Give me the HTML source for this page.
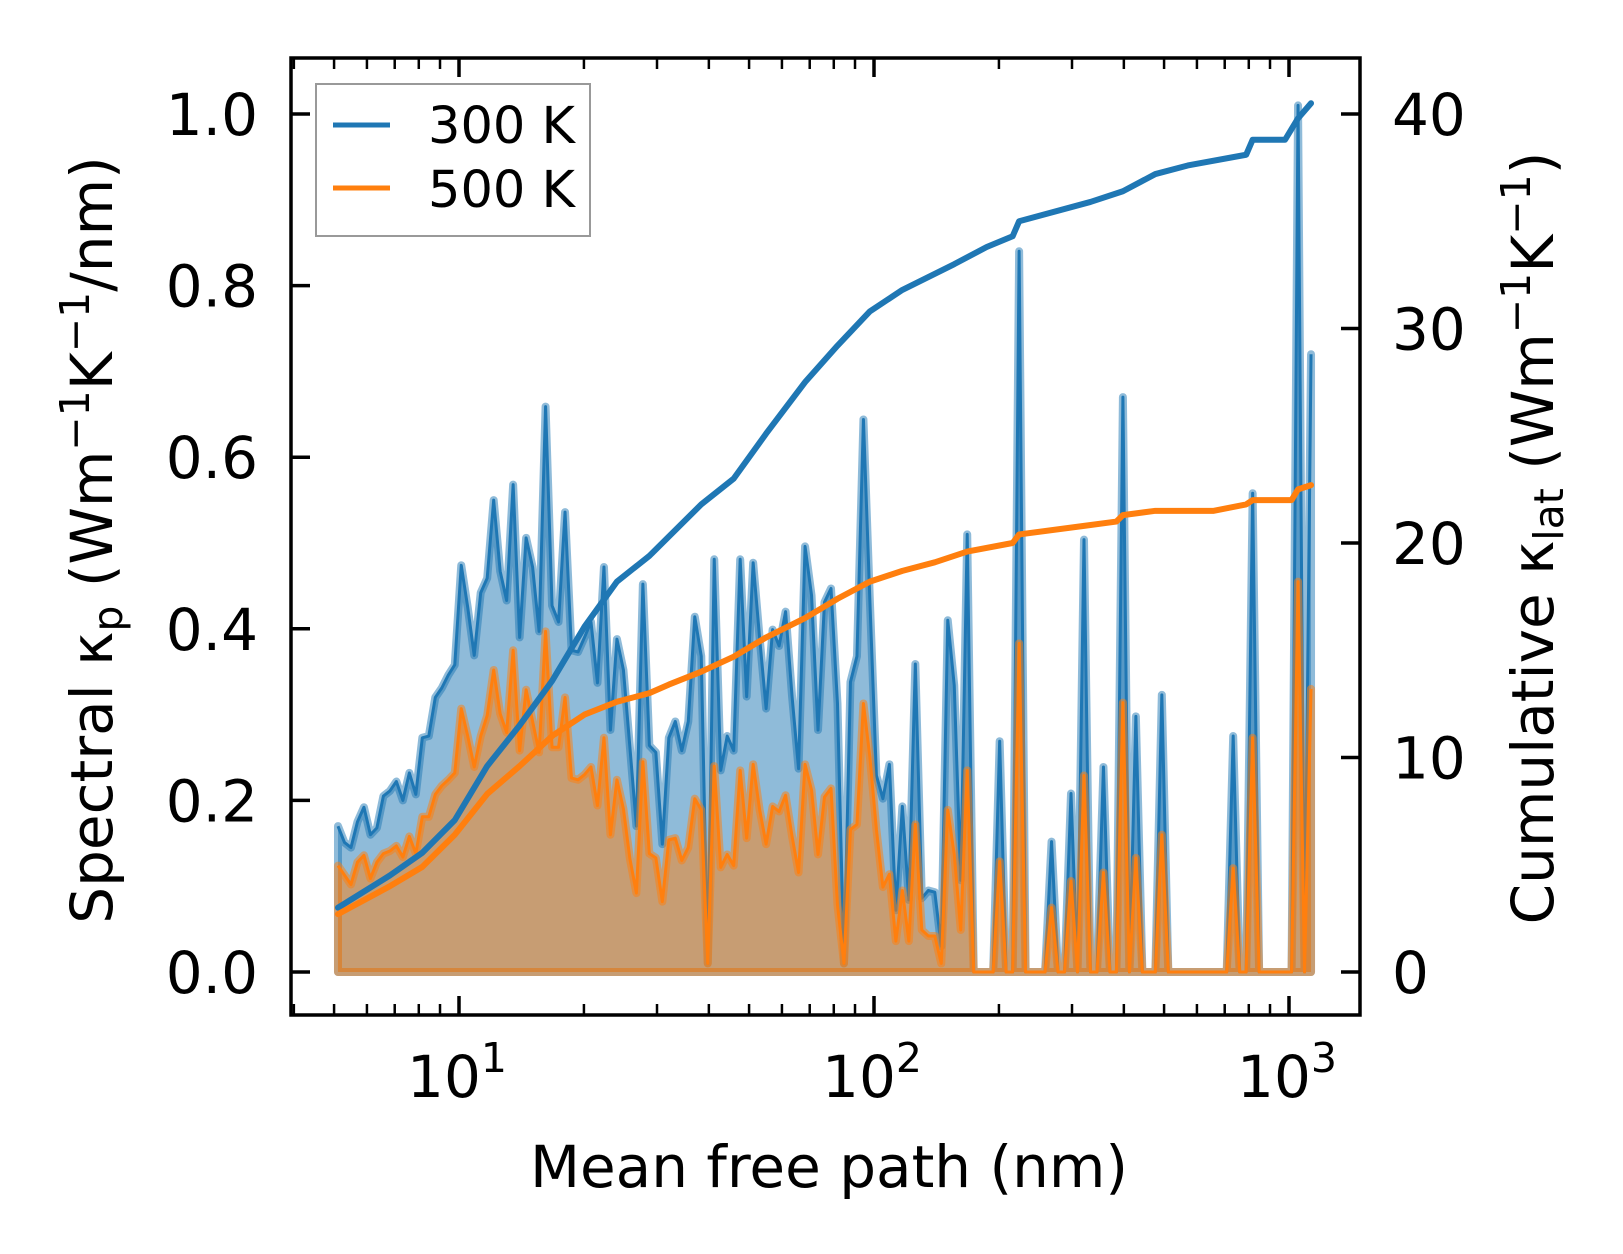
<!DOCTYPE html>
<html><head><meta charset="utf-8"><style>
html,body{margin:0;padding:0;background:#fff;}
svg{display:block;font-family:"DejaVu Sans","Liberation Sans",sans-serif;}
</style></head><body>
<svg id="chart" width="1623" height="1254" viewBox="0 0 1623 1254" xmlns="http://www.w3.org/2000/svg">
<rect x="0" y="0" width="1623" height="1254" fill="#fff"/>
<g id="plot"></g>
<g id="axes"></g>
<g>
<rect x="316" y="84" width="274" height="152" fill="#fff" fill-opacity="0.8" stroke="#999" stroke-width="2"/>
<line x1="333" y1="125" x2="390" y2="125" stroke="#1f77b4" stroke-width="5"/>
<text x="428" y="143" font-size="51" fill="#000">300 K</text>
<line x1="333" y1="188" x2="390" y2="188" stroke="#ff7f0e" stroke-width="5"/>
<text x="428" y="207" font-size="51" fill="#000">500 K</text>
</g>
<text x="829" y="1187" font-size="58" text-anchor="middle">Mean free path (nm)</text>
<text transform="translate(112,540) rotate(-90)" font-size="58" text-anchor="middle">Spectral κ<tspan font-size="41" dy="10">p</tspan><tspan dy="-10"> (Wm</tspan><tspan font-size="41" dy="-23">−1</tspan><tspan dy="23">K</tspan><tspan font-size="41" dy="-23">−1</tspan><tspan dy="23">/nm)</tspan></text>
<text transform="translate(1553,538) rotate(-90)" font-size="58" text-anchor="middle">Cumulative κ<tspan font-size="41" dy="10">lat</tspan><tspan dy="-10"> (Wm</tspan><tspan font-size="41" dy="-23">−1</tspan><tspan dy="23">K</tspan><tspan font-size="41" dy="-23">−1</tspan><tspan dy="23">)</tspan></text>
</svg>
<script>
const mfpMin = 5.11;
const mfpMax = 1130;
const spec300 = [0.170,0.151,0.145,0.175,0.192,0.160,0.168,0.205,0.211,0.222,0.200,0.232,0.207,0.273,0.275,0.320,0.331,0.346,0.358,0.474,0.425,0.369,0.442,0.459,0.550,0.467,0.433,0.568,0.390,0.506,0.472,0.397,0.659,0.427,0.408,0.536,0.375,0.373,0.390,0.408,0.337,0.472,0.282,0.388,0.352,0.262,0.170,0.452,0.264,
0.256,0.149,0.273,0.292,0.258,0.292,0.414,0.368,0.01,0.481,0.235,0.275,0.258,0.481,0.321,0.477,0.389,0.307,0.399,0.380,0.420,0.321,0.237,0.496,0.439,0.282,0.431,0.447,0.313,0.01,0.338,0.368,0.644,0.431,0.229,0.202,0.242,0.072,0.193,0.084,0.359,0.086,0.095,0.093,0.03,0.410,0.334,0.107,0.510,
0,0,0,0,0.269,0,0,0.84,0,0,0,0,0.152,0,0,0.208,0,0.504,0,0,0.239,0,0,0.67,0,0.298,0,0,0,0.323,0,0,0,0,0,0,0,0,0,0,0.275,0,0,0.558,0,0,0,0,0,0,1.01,0,0.72];
const spec500 = [0.124,0.113,0.102,0.128,0.136,0.109,0.128,0.138,0.141,0.147,0.134,0.158,0.138,0.181,0.181,0.207,0.217,0.224,0.232,0.307,0.275,0.239,0.275,0.299,0.352,0.301,0.279,0.375,0.258,0.329,0.292,0.256,0.397,0.262,0.262,0.320,0.226,0.224,0.230,0.239,0.194,0.273,0.160,0.224,0.190,0.132,0.092,0.245,0.138,
0.133,0.082,0.154,0.156,0.130,0.145,0.202,0.189,0.01,0.240,0.122,0.137,0.124,0.235,0.156,0.242,0.189,0.149,0.193,0.187,0.206,0.158,0.116,0.242,0.212,0.137,0.204,0.214,0.078,0.01,0.166,0.172,0.313,0.250,0.166,0.099,0.114,0.036,0.095,0.036,0.172,0.049,0.042,0.042,0.01,0.189,0.137,0.049,0.235,
0,0,0,0,0.129,0,0,0.383,0,0,0,0,0.075,0,0,0.106,0,0.229,0,0,0.116,0,0,0.314,0,0.133,0,0,0,0.160,0,0,0,0,0,0,0,0,0,0,0.121,0,0,0.273,0,0,0,0,0,0,0.455,0,0.33];
const cum300Idx = [0,8,13,18,23,28,33,38,43,48,56,61,66,72,77,82,87,91,95,100,104,105,116,121,126,131,140,141,146,148,150];
const cum300 = [3.0,4.5,5.56,7.08,9.6,11.5,13.57,16.1,18.2,19.4,21.8,23.0,25.1,27.5,29.2,30.8,31.8,32.4,33.0,33.8,34.3,35.0,35.9,36.4,37.2,37.6,38.1,38.8,38.8,39.8,40.5];
const cum500Idx = [0,8,13,18,23,28,33,38,43,48,51,56,61,66,72,77,82,87,92,97,104,105,115,120,121,126,135,140,141,147,148,150];
const cum500 = [2.7,4.0,4.9,6.4,8.3,9.6,11.0,12.0,12.6,13.0,13.4,14.0,14.7,15.6,16.5,17.4,18.2,18.7,19.1,19.6,20.0,20.4,20.8,21.0,21.3,21.5,21.5,21.8,22.0,22.0,22.5,22.7];
const leftTicks = [0.0,0.2,0.4,0.6,0.8,1.0];
const leftTickLabels = ["0.0","0.2","0.4","0.6","0.8","1.0"];
const rightTicks = [0,10,20,30,40];
const xMajor = [10,100,1000];
const xMajorExp = ["1","2","3"];

const L=291, R=1360, T=58, B=1015;
const X0=459, DEC=415, Y0=972, YU=858;
function xs(m){return X0+DEC*(Math.log10(m)-1);}
function yl(v){return Y0-YU*v;}
function yr(k){return Y0-YU*k/40;}
function mfpAt(i,n){return mfpMin*Math.pow(mfpMax/mfpMin,i/(n-1));}
const NS="http://www.w3.org/2000/svg";
function mk(tag,attrs,parent){const e=document.createElementNS(NS,tag);for(const k in attrs)e.setAttribute(k,attrs[k]);parent.appendChild(e);return e;}
const plot=document.getElementById('plot');
const axes=document.getElementById('axes');

function spectral(vals,color,name){
  const n=vals.length;
  let pts=vals.map((v,i)=>xs(mfpAt(i,n)).toFixed(2)+','+yl(v).toFixed(2));
  const x0=xs(mfpAt(0,n)), x1=xs(mfpAt(n-1,n));
  const poly=mk('polygon',{points:x0.toFixed(2)+','+yl(0)+' '+pts.join(' ')+' '+x1.toFixed(2)+','+yl(0),fill:color,'fill-opacity':0.5,stroke:color,'stroke-opacity':0.5,'stroke-width':8,'stroke-linejoin':'round'},plot);
  
  
  const line=mk('polyline',{points:pts.join(' '),fill:'none',stroke:color,'stroke-width':3,'stroke-linejoin':'round'},plot);
  
  
}
spectral(spec300,'#1f77b4','spectral-300k');
spectral(spec500,'#ff7f0e','spectral-500k');
function cumLine(idx,vals,color,name){
  const n=spec300.length;
  const pts=idx.map((ix,j)=>xs(mfpAt(ix,n)).toFixed(2)+','+yr(vals[j]).toFixed(2));
  const l=mk('polyline',{points:pts.join(' '),fill:'none',stroke:color,'stroke-width':6,'stroke-linejoin':'round','stroke-linecap':'round'},plot);
  
  
}
cumLine(cum300Idx,cum300,'#1f77b4','cumulative-300k-line');
cumLine(cum500Idx,cum500,'#ff7f0e','cumulative-500k-line');

const fr=mk('rect',{x:L,y:T,width:R-L,height:B-T,fill:'none',stroke:'#000','stroke-width':3.5},axes);


leftTicks.forEach((v,i)=>{
  const t=mk('line',{x1:L,x2:L+19,y1:yl(v),y2:yl(v),stroke:'#000','stroke-width':3.5},axes);
  
  
  const tx=mk('text',{x:258,y:yl(v)+21,'font-size':58,'text-anchor':'end'},axes);
  tx.textContent=leftTickLabels[i];
  
  
});
rightTicks.forEach(v=>{
  const t=mk('line',{x1:R-19,x2:R,y1:yr(v),y2:yr(v),stroke:'#000','stroke-width':3.5},axes);
  
  
  const tx=mk('text',{x:1392,y:yr(v)+21,'font-size':58},axes);
  tx.textContent=String(v);
  
  
});
xMajor.forEach((m,i)=>{
  const x=xs(m);
  [[B,B-19],[T,T+19]].forEach(p=>{
    const t=mk('line',{x1:x,x2:x,y1:p[0],y2:p[1],stroke:'#000','stroke-width':3.5},axes);
    
    
  });
  const tx=mk('text',{x:x-2,y:1097,'font-size':58,'text-anchor':'middle'},axes);
  
  
  tx.appendChild(document.createTextNode('10'));
  const ts=mk('tspan',{'font-size':41,dy:-25},tx);
  ts.textContent=xMajorExp[i];
});
[1,10,100,1000].forEach(d=>{
  for(let k=2;k<=9;k++){
    const m=d*k, x=xs(m);
    if(x<=L+2||x>=R-2) continue;
    [[B,B-11],[T,T+11]].forEach(p=>{
      const t=mk('line',{x1:x,x2:x,y1:p[0],y2:p[1],stroke:'#000','stroke-width':2.5},axes);
      
      
    });
  }
});
</script>
</body></html>
